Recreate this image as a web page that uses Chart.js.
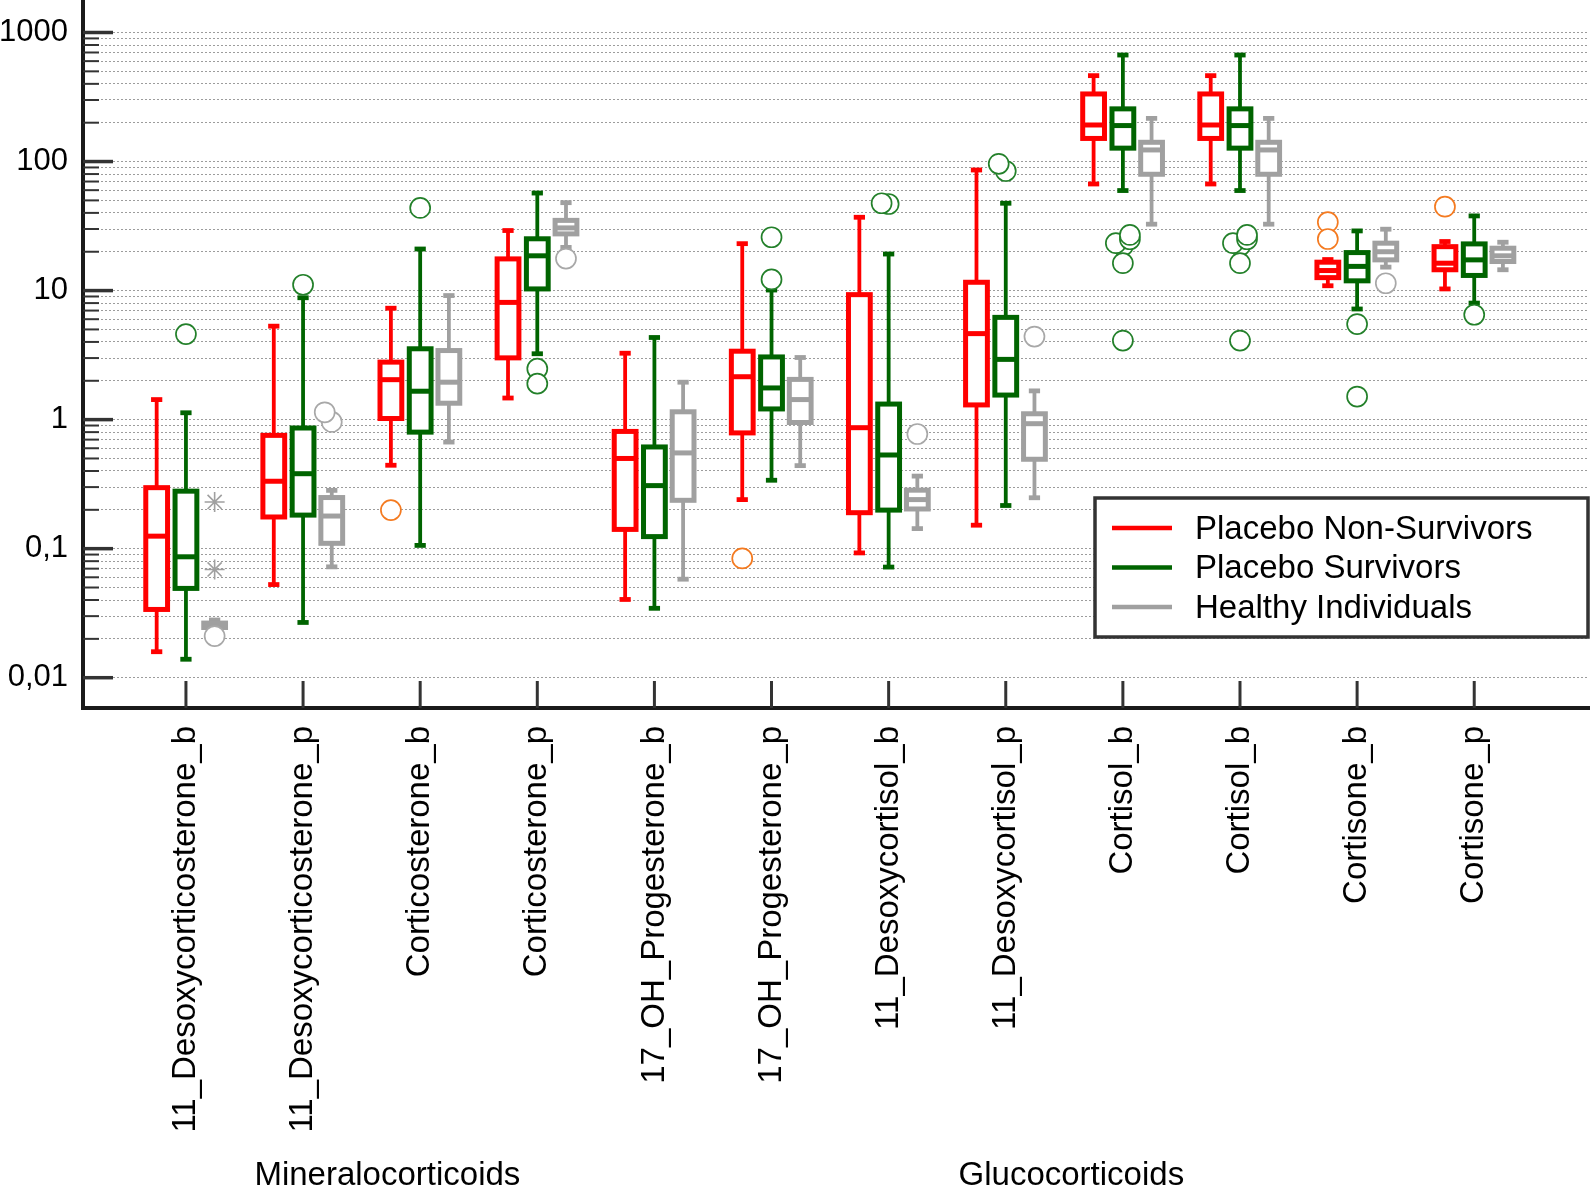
<!DOCTYPE html>
<html>
<head>
<meta charset="utf-8">
<title>Corticosteroids</title>
<script src="https://cdn.jsdelivr.net/npm/chart.js"></script>
<style>
    html, body { margin: 0; padding: 0; background: #fff; }
    canvas { display: block; }
</style>
</head>
<body>
<canvas id="chart1" width="1593" height="1188"></canvas>
<script>
var categories = ['11_Desoxycorticosterone_b', '11_Desoxycorticosterone_p', 'Corticosterone_b', 'Corticosterone_p',
    '17_OH_Progesterone_b', '17_OH_Progesterone_p', '11_Desoxycortisol_b', '11_Desoxycortisol_p',
    'Cortisol_b', 'Cortisol_b', 'Cortisone_b', 'Cortisone_p'];
var groupNames = ['Placebo Non-Survivors', 'Placebo Survivors', 'Healthy Individuals'];

// [lower whisker, Q1, median, Q3, upper whisker]
var nonSurvivorsBox = [
    [0.0159, 0.0338, 0.125, 0.297, 1.43],
    [0.0527, 0.176, 0.333, 0.755, 5.3],
    [0.443, 1.02, 2.04, 2.79, 7.3],
    [1.47, 3.01, 8.1, 17.6, 29.2],
    [0.0404, 0.141, 0.50, 0.81, 3.27],
    [0.240, 0.789, 2.15, 3.39, 23.1],
    [0.0927, 0.19, 0.866, 9.3, 37],
    [0.152, 1.30, 4.64, 11.6, 86],
    [67, 151, 192, 334, 463],
    [67, 151, 192, 334, 463],
    [10.9, 12.6, 14.3, 16.6, 17.4],
    [10.3, 14.5, 16.3, 21.9, 24]
];
var survivorsBox = [
    [0.0139, 0.0492, 0.0865, 0.279, 1.13],
    [0.0268, 0.182, 0.381, 0.861, 8.8],
    [0.106, 0.80, 1.66, 3.54, 21],
    [3.24, 10.3, 18.6, 25.2, 57],
    [0.0345, 0.124, 0.308, 0.614, 4.33],
    [0.339, 1.21, 1.76, 3.06, 10.1],
    [0.072, 0.199, 0.532, 1.32, 19.2],
    [0.216, 1.55, 2.93, 6.2, 47.5],
    [59.6, 127, 190, 256, 669],
    [59.6, 127, 190, 256, 669],
    [7.2, 11.9, 15.4, 19.7, 29],
    [8.0, 13.1, 17.3, 23, 37.9]
];
var healthyBox = [
    [0.024, 0.0245, 0.026, 0.0265, 0.028],
    [0.0723, 0.110, 0.179, 0.249, 0.283],
    [0.67, 1.34, 1.95, 3.43, 9.15],
    [21.6, 27.5, 30.6, 35, 48],
    [0.058, 0.237, 0.552, 1.15, 1.95],
    [0.44, 0.95, 1.43, 2.05, 3.03],
    [0.143, 0.203, 0.24, 0.284, 0.365],
    [0.248, 0.493, 0.93, 1.11, 1.67],
    [32.7, 79.7, 123, 141, 216],
    [32.7, 79.7, 123, 141, 216],
    [15.2, 17.3, 20, 23.3, 29.9],
    [14.5, 16.8, 18.6, 21.3, 23.7]
];

// [category index, value]
var nonSurvivorsOutliers = [[2, 0.199], [5, 0.084], [10, 33.9], [10, 25.1], [11, 44.7]];
var survivorsOutliers = [
    [0, 4.6], [1, 11.1], [2, 43.7], [3, 2.48], [3, 1.90], [5, 25.9], [5, 12.2],
    [6, 46.9], [6, 47.5], [7, 84.5], [7, 96],
    [8, 22.2], [8, 23.3], [8, 25], [8, 27], [8, 16.3], [8, 4.1],
    [9, 22.2], [9, 23.3], [9, 25], [9, 27], [9, 16.3], [9, 4.1],
    [10, 5.5], [10, 1.51], [11, 6.5]
];
var healthyOutliers = [[0, 0.021], [1, 0.96], [1, 1.14], [3, 17.7], [6, 0.774], [7, 4.4], [10, 11.4]];
var healthyExtremes = [[0, 0.23], [0, 0.069]];

var yTickValues = [0.01, 0.1, 1, 10, 100, 1000];
var yTickLabels = ['0,01', '0,1', '1', '10', '100', '1000'];
var sectionNames = ['Mineralocorticoids', 'Glucocorticoids'];

var groupColors = ['#ff0000', '#006400', '#a0a0a0'];
var outlierColors = ['#f47a20', '#23802a', '#a8a8a8'];
var groupShift = [-0.25, 0, 0.245];
var fontFamily = "'Liberation Sans', Arial, sans-serif";

// all minor + major positions on the log axis
var yAllTicks = [];
for (var d = 0; d < yTickValues.length; d++) {
    var lim = d === yTickValues.length - 1 ? 1 : 9;
    for (var m = 1; m <= lim; m++) {
        yAllTicks.push(yTickValues[d] * m);
    }
}

var outlierPoints = function (list, group) {
    var placed = [];
    return list.map(function (o) {
        var near = placed.filter(function (p) {
            return p[0] === o[0] && Math.abs(Math.log10(p[1]) - Math.log10(o[1])) < 0.08;
        }).length;
        placed.push(o);
        var jitter = [0, -0.06, 0.06, -0.1, 0.1][near] || 0;
        return { x: o[0] + groupShift[group] + jitter, y: o[1] };
    });
};

var line = function (ctx, x1, y1, x2, y2) {
    ctx.beginPath();
    ctx.moveTo(x1, y1);
    ctx.lineTo(x2, y2);
    ctx.stroke();
};

var noPadding = function (scale) {
    scale.paddingTop = 0;
    scale.paddingBottom = 0;
    scale.paddingLeft = 0;
    scale.paddingRight = 0;
};

var boxPlotPlugin = {
    id: 'boxPlots',
    beforeDatasetsDraw: function (chart) {
        var ctx = chart.ctx;
        var xs = chart.scales.x;
        var ys = chart.scales.y;
        var area = chart.chartArea;
        var unit = xs.getPixelForValue(1) - xs.getPixelForValue(0);

        ctx.save();
        // inward tick marks on the y axis
        ctx.strokeStyle = '#333';
        yAllTicks.forEach(function (v) {
            var major = yTickValues.indexOf(v) >= 0;
            var py = ys.getPixelForValue(v);
            ctx.lineWidth = major ? 3.5 : 2;
            line(ctx, area.left, py, area.left + (major ? 30 : 16), py);
        });
        // upward tick marks on the x axis
        ctx.lineWidth = 3;
        categories.forEach(function (c, i) {
            var px = xs.getPixelForValue(i);
            line(ctx, px, area.bottom - 27, px, area.bottom);
        });

        [nonSurvivorsBox, survivorsBox, healthyBox].forEach(function (boxes, g) {
            ctx.strokeStyle = groupColors[g];
            boxes.forEach(function (b, i) {
                var cx = xs.getPixelForValue(i + groupShift[g]);
                var halfBox = unit * 0.093;
                var halfCap = unit * 0.048;
                var yLo = ys.getPixelForValue(b[0]);
                var yQ1 = ys.getPixelForValue(b[1]);
                var yMed = ys.getPixelForValue(b[2]);
                var yQ3 = ys.getPixelForValue(b[3]);
                var yHi = ys.getPixelForValue(b[4]);
                ctx.lineCap = 'butt';
                ctx.lineWidth = 3.8;
                line(ctx, cx, yHi, cx, yQ3);
                line(ctx, cx, yQ1, cx, yLo);
                ctx.lineWidth = 4.8;
                line(ctx, cx - halfCap, yHi, cx + halfCap, yHi);
                line(ctx, cx - halfCap, yLo, cx + halfCap, yLo);
                ctx.fillStyle = '#fff';
                ctx.lineWidth = 5;
                ctx.fillRect(cx - halfBox, yQ3, halfBox * 2, yQ1 - yQ3);
                ctx.strokeRect(cx - halfBox, yQ3, halfBox * 2, yQ1 - yQ3);
                line(ctx, cx - halfBox, yMed, cx + halfBox, yMed);
            });
        });
        ctx.restore();
    },
    afterDraw: function (chart) {
        var ctx = chart.ctx;
        var xs = chart.scales.x;
        ctx.save();
        // group captions under the axis labels
        ctx.fillStyle = '#000';
        ctx.font = '33px ' + fontFamily;
        ctx.textAlign = 'center';
        ctx.textBaseline = 'alphabetic';
        ctx.fillText(sectionNames[0], xs.getPixelForValue(1.72), 1185);
        ctx.fillText(sectionNames[1], xs.getPixelForValue(7.56), 1185);

        // legend box
        ctx.fillStyle = '#fff';
        ctx.fillRect(1095, 498, 493, 139);
        ctx.strokeStyle = '#333';
        ctx.lineWidth = 3.5;
        ctx.strokeRect(1095, 498, 493, 139);
        ctx.font = '33px ' + fontFamily;
        ctx.textAlign = 'left';
        groupNames.forEach(function (name, g) {
            var ly = 528 + g * 39.5;
            ctx.strokeStyle = groupColors[g];
            ctx.lineWidth = 4.5;
            line(ctx, 1112, ly, 1172, ly);
            ctx.fillStyle = '#000';
            ctx.fillText(name, 1195, ly + 10.5);
        });
        ctx.restore();
    }
};

var outlierStyle = function (g) {
    return {
        pointStyle: 'circle',
        pointRadius: 10,
        pointBorderWidth: 1.7,
        pointBorderColor: outlierColors[g],
        pointBackgroundColor: '#fff',
        showLine: false
    };
};

var datasets = [
    Object.assign({ label: groupNames[0], data: outlierPoints(nonSurvivorsOutliers, 0) }, outlierStyle(0)),
    Object.assign({ label: groupNames[1], data: outlierPoints(survivorsOutliers, 1) }, outlierStyle(1)),
    Object.assign({ label: groupNames[2], data: outlierPoints(healthyOutliers, 2) }, outlierStyle(2)),
    {
        label: groupNames[2] + ' extremes',
        data: outlierPoints(healthyExtremes, 2),
        pointStyle: 'star',
        pointRadius: 10,
        pointBorderWidth: 1.6,
        pointBorderColor: '#a0a0a0',
        pointBackgroundColor: '#a0a0a0',
        showLine: false
    }
];

const config = {
    type: 'scatter',
    data: { datasets: datasets },
    options: {
        responsive: false,
        animation: false,
        devicePixelRatio: 1,
        layout: { autoPadding: false, padding: { top: 0, right: 4, left: 0, bottom: 0 } },
        plugins: {
            legend: { display: false },
            tooltip: { enabled: false }
        },
        scales: {
            x: {
                type: 'linear',
                min: -0.879,
                max: 11.98,
                bounds: 'data',
                grid: { display: false, drawTicks: false },
                border: { display: true, color: '#1a1a1a', width: 4 },
                afterBuildTicks: function (scale) {
                    scale.ticks = categories.map(function (c, i) { return { value: i }; });
                },
                afterFit: function (scale) {
                    scale.height = 480;
                    noPadding(scale);
                },
                ticks: {
                    autoSkip: false,
                    minRotation: 90,
                    maxRotation: 90,
                    padding: 18,
                    color: '#000',
                    font: { family: fontFamily, size: 33 },
                    callback: function (v) { return categories[v]; }
                }
            },
            y: {
                type: 'logarithmic',
                min: 0.005824,
                max: 1786,
                bounds: 'data',
                grid: { color: '#9c9c9c', lineWidth: 1, drawTicks: false },
                border: { display: true, color: '#1a1a1a', width: 4, dash: [2, 2] },
                afterBuildTicks: function (scale) {
                    scale.ticks = yAllTicks.map(function (v) { return { value: v }; });
                },
                afterFit: function (scale) {
                    scale.width = 83;
                    noPadding(scale);
                },
                ticks: {
                    autoSkip: false,
                    padding: 15,
                    color: '#000',
                    font: { family: fontFamily, size: 31 },
                    callback: function (v) {
                        var k = yTickValues.indexOf(v);
                        return k >= 0 ? yTickLabels[k] : '';
                    }
                }
            }
        }
    },
    plugins: [boxPlotPlugin]
};

var chart1 = new Chart(document.getElementById('chart1'), config);
</script>
</body>
</html>
